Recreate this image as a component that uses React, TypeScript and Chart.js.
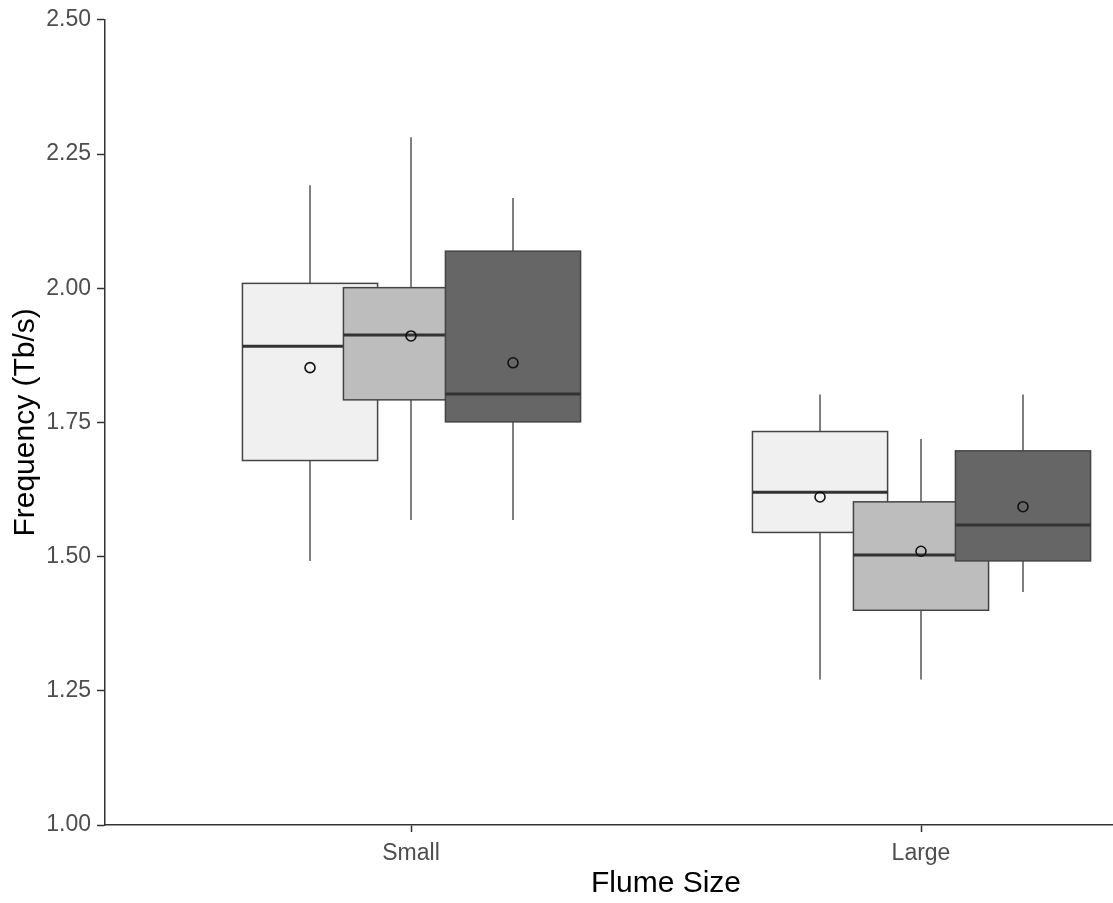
import React, { useEffect, useRef } from "react";
import { Chart, registerables } from "chart.js";

Chart.register(...registerables);

// Categories (x) and series (fill levels)
const groups = ["Small", "Large"];
const seriesNames = ["Level 1", "Level 2", "Level 3"];
const seriesFill = ["#f0f0f0", "#bdbdbd", "#666666"];
const yTickValues = [1.0, 1.25, 1.5, 1.75, 2.0, 2.25, 2.5];

// Box statistics: rows = series, columns = groups (Small, Large)
const whiskerLow = [
  [1.492, 1.271],
  [1.568, 1.271],
  [1.568, 1.434],
];
const q1 = [
  [1.679, 1.545],
  [1.792, 1.4],
  [1.751, 1.492],
];
const median = [
  [1.892, 1.62],
  [1.913, 1.503],
  [1.803, 1.559],
];
const q3 = [
  [2.009, 1.733],
  [2.001, 1.602],
  [2.069, 1.697],
];
const whiskerHigh = [
  [2.192, 1.802],
  [2.281, 1.719],
  [2.168, 1.802],
];
const means = [
  [1.852, 1.611],
  [1.911, 1.51],
  [1.861, 1.593],
];

// Layout constants (dodge / box width in category units)
const dodge = [-0.198, 0, 0.2];
const boxWidth = 0.265;

const FONT = "'Liberation Sans', Arial, sans-serif";

const boxPlugin = {
  id: "boxes",
  beforeDatasetsDraw(chart: any) {
    const { ctx, chartArea, scales } = chart;
    const x = scales.x;
    const y = scales.y;
    ctx.save();
    ctx.beginPath();
    ctx.rect(
      chartArea.left,
      chartArea.top,
      chartArea.right - chartArea.left,
      chartArea.bottom - chartArea.top
    );
    ctx.clip();
    groups.forEach((_g, gi) => {
      seriesNames.forEach((_s, si) => {
        const c = gi + 1 + dodge[si];
        const px = x.getPixelForValue(c);
        const left = x.getPixelForValue(c - boxWidth / 2);
        const right = x.getPixelForValue(c + boxWidth / 2);
        const yLo = y.getPixelForValue(whiskerLow[si][gi]);
        const yQ1 = y.getPixelForValue(q1[si][gi]);
        const yMed = y.getPixelForValue(median[si][gi]);
        const yQ3 = y.getPixelForValue(q3[si][gi]);
        const yHi = y.getPixelForValue(whiskerHigh[si][gi]);

        // whiskers
        ctx.strokeStyle = "#555555";
        ctx.lineWidth = 1.5;
        ctx.beginPath();
        ctx.moveTo(px, yHi);
        ctx.lineTo(px, yQ3);
        ctx.moveTo(px, yQ1);
        ctx.lineTo(px, yLo);
        ctx.stroke();

        // box
        ctx.fillStyle = seriesFill[si];
        ctx.fillRect(left, yQ3, right - left, yQ1 - yQ3);
        ctx.strokeStyle = "#444444";
        ctx.lineWidth = 1.5;
        ctx.strokeRect(left, yQ3, right - left, yQ1 - yQ3);

        // median
        ctx.strokeStyle = "#333333";
        ctx.lineWidth = 3;
        ctx.beginPath();
        ctx.moveTo(left, yMed);
        ctx.lineTo(right, yMed);
        ctx.stroke();
      });
    });
    ctx.restore();
  },
};

export default function App() {
  const canvasRef = useRef<HTMLCanvasElement | null>(null);

  useEffect(() => {
    const canvas = canvasRef.current;
    if (!canvas) return;
    const chart = new Chart(canvas, {
      type: "scatter",
      data: {
        datasets: seriesNames.map((name, si) => ({
          label: name,
          data: groups.map((_g, gi) => ({ x: gi + 1 + dodge[si], y: means[si][gi] })),
          pointRadius: 5,
          pointHoverRadius: 5,
          pointBorderWidth: 1.6,
          pointBackgroundColor: "rgba(0,0,0,0)",
          pointBorderColor: "#111111",
          showLine: false,
        })),
      },
      options: {
        responsive: false,
        animation: false,
        events: [],
        layout: { padding: { top: 17, right: 13, left: 0, bottom: 0 } },
        plugins: {
          legend: { display: false },
          tooltip: { enabled: false },
        },
        scales: {
          x: {
            type: "linear",
            position: "bottom",
            min: 0.4,
            max: 2.6,
            afterBuildTicks: (scale: any) => {
              scale.ticks = groups.map((_g, i) => ({ value: i + 1 }));
            },
            afterFit: (scale: any) => {
              scale.height = 78;
            },
            ticks: {
              autoSkip: false,
              maxRotation: 0,
              padding: 8,
              color: "#4d4d4d",
              font: { family: FONT, size: 23 },
              callback: (v: any) => groups[Math.round(Number(v)) - 1] ?? "",
            },
            grid: {
              drawOnChartArea: false,
              drawTicks: true,
              tickLength: 7,
              tickColor: "#333333",
              tickWidth: 1.5,
            },
            border: { display: true, color: "#333333", width: 1.5 },
            title: {
              display: true,
              text: "Flume Size",
              color: "#000000",
              font: { family: FONT, size: 30 },
              padding: { top: 0, bottom: 1 },
            },
          },
          y: {
            type: "linear",
            min: 1,
            max: 2.5,
            afterBuildTicks: (scale: any) => {
              scale.ticks = yTickValues.map((v) => ({ value: v }));
            },
            afterFit: (scale: any) => {
              scale.width = 105;
            },
            ticks: {
              padding: 6,
              color: "#4d4d4d",
              font: { family: FONT, size: 23 },
              callback: (v: any) => Number(v).toFixed(2),
            },
            grid: {
              drawOnChartArea: false,
              drawTicks: true,
              tickLength: 8,
              tickColor: "#333333",
              tickWidth: 1.5,
            },
            border: { display: true, color: "#333333", width: 1.5 },
            title: {
              display: true,
              text: "Frequency (Tb/s)",
              color: "#000000",
              font: { family: FONT, size: 30 },
              padding: { top: 8, bottom: 0 },
            },
          },
        },
      },
      plugins: [boxPlugin],
    });
    return () => chart.destroy();
  }, []);

  return (
    <div
      style={{
        position: "fixed",
        left: 0,
        top: 0,
        width: 1113,
        height: 903,
        overflow: "hidden",
        background: "#ffffff",
      }}
    >
      <canvas
        ref={canvasRef}
        width={1240}
        height={903}
        style={{ width: 1240, height: 903, display: "block" }}
      />
    </div>
  );
}
